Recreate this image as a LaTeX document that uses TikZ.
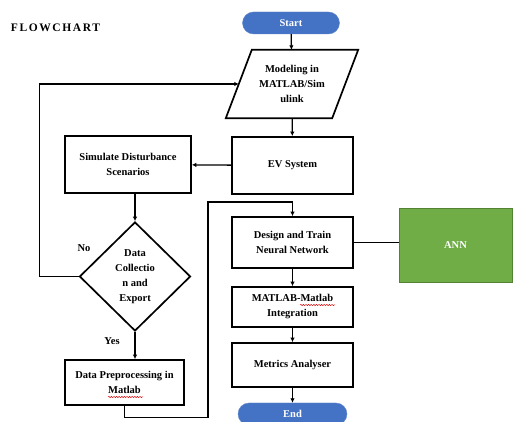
\documentclass[tikz,border=0pt]{standalone}
\usepackage{fontspec}
\setmainfont{Liberation Serif}
\newfontfamily\spacedfont[LetterSpace=14]{Liberation Serif}
\usetikzlibrary{arrows.meta,shapes.geometric,decorations.pathmorphing}
\definecolor{blueov}{RGB}{68,114,196}
\definecolor{annG}{RGB}{112,173,71}
\begin{document}
\begin{tikzpicture}[x=1pt,y=-1pt,
  lbl/.style={font=\fontsize{10.5}{15}\selectfont\bfseries, align=center, inner sep=0pt},
  box/.style={lbl, draw, line width=1.7pt},
  term/.style={lbl, fill=blueov, draw=blueov!85!white, rounded corners=11pt, text=white, minimum height=22},
  conn/.style={line width=1.3pt, -{Latex[length=4.5pt,width=4.5pt]}},
  squig/.style={red!85!black, line width=0.5pt, decorate, decoration={snake, amplitude=0.6pt, segment length=2.6pt}}]
\useasboundingbox (0,0) rectangle (515,422);
\fill[white] (0,0) rectangle (515,422);

\node[lbl, font=\fontsize{11.5}{13}\selectfont\bfseries\spacedfont] (title) at (55.5,28) {FLOWCHART};

\node[term, minimum width=97] (start) at (291,23) {Start};
\node[lbl, minimum width=132, minimum height=68] (mod) at (292,84) {Modeling in\\MATLAB/Sim\\ulink};
\draw[line width=1.7pt] ([xshift=26pt]mod.north west) -- (mod.north east) -- ([xshift=-26pt]mod.south east) -- (mod.south west) -- cycle;
\coordinate (noend) at ([xshift=13pt]mod.west);

\node[box, minimum width=121, minimum height=57] (ev) at (292.5,165.5) {EV System};
\node[box, minimum width=126, minimum height=57] (sim) at (128,164.5) {Simulate Disturbance\\Scenarios};
\node[lbl, draw, line width=1.7pt, diamond, aspect=1, minimum width=111, minimum height=109] (dia) at (135,276.5) {Data\\Collectio\\n and\\Export};
\node[box, minimum width=119, minimum height=45] (pre) at (124.5,382.5) {Data Preprocessing in\\Matlab};

\node[box, minimum width=121, minimum height=51] (des) at (292.5,242.5) {Design and Train\\Neural Network};
\node[lbl, fill=annG, draw=annG!75!black, line width=0.6pt, text=white, minimum width=113, minimum height=74] (ann) at (455.5,245) {ANN};
\node[box, minimum width=121, minimum height=40] (int) at (292.5,307) {MATLAB-Matlab\\Integration};
\node[box, minimum width=121, minimum height=44] (met) at (292.5,365) {Metrics Analyser};
\node[term, minimum width=109] (end) at (292.5,414) {End};

\node[lbl] (no) at (84,248) {No};
\node[lbl] (yes) at (112,341) {Yes};

\coordinate (r1) at (208,202);

\draw[conn] (start) -- (mod);
\draw[conn] (mod) -- (ev);
\draw[conn] (ev) -- (sim);
\draw[conn] (sim.south -| dia.north) -- (dia.north);
\draw[conn] (dia.west) -- ++(-39,0) |- (noend);
\draw[conn] (dia.south) -- (dia.south |- pre.north);
\draw[conn] (pre.south) -- ++(0,12) -| (r1) -| (des.north);
\draw[line width=1.3pt] (des.east) -- (des.east -| ann.west);
\draw[conn] (des) -- (int);
\draw[conn] (int) -- (met);
\draw[conn] (met) -- (end);

\draw[squig] (108,397) -- (143,397);
\draw[squig] (300,305) -- (335,305);
\end{tikzpicture}
\end{document}
